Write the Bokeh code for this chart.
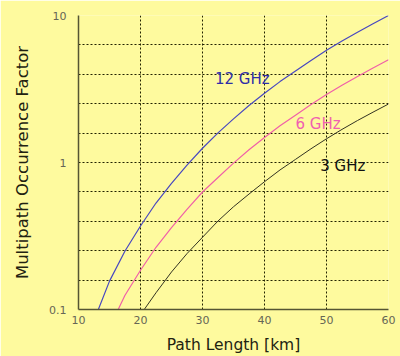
from bokeh.plotting import figure
from bokeh.models import FixedTicker, ColumnDataSource
from bokeh.core.properties import value
from bokeh.embed import file_html
from bokeh.resources import INLINE

# Data
d_12 = [13.2, 15, 17.5, 20, 22.5, 25, 27.5, 30, 32.5, 35, 37.5, 40, 42.5, 45, 47.5, 50, 52.5, 55, 57.5, 60]
p_12 = [0.1, 0.156, 0.25, 0.37, 0.53, 0.72, 0.96, 1.25, 1.59, 1.98, 2.44, 2.96, 3.55, 4.2, 4.95, 5.8, 6.7, 7.7, 8.8, 10.0]

d_6 = [16.4, 17.5, 20, 22.5, 25, 27.5, 30, 32.5, 35, 37.5, 40, 42.5, 45, 47.5, 50, 52.5, 55, 57.5, 60]
p_6 = [0.1, 0.125, 0.185, 0.265, 0.36, 0.48, 0.63, 0.79, 0.99, 1.22, 1.48, 1.78, 2.1, 2.48, 2.9, 3.35, 3.85, 4.4, 5.0]

d_3 = [20.6, 22.5, 25, 27.5, 30, 32.5, 35, 37.5, 40, 42.5, 45, 47.5, 50, 52.5, 55, 57.5, 60]
p_3 = [0.1, 0.13, 0.18, 0.24, 0.31, 0.4, 0.5, 0.61, 0.74, 0.89, 1.05, 1.24, 1.45, 1.68, 1.93, 2.2, 2.5]

x_ticks = [10, 20, 30, 40, 50, 60]
y_ticks = [0.1, 1, 10]
y_grid_exp = [-1.0, -0.8, -0.6, -0.4, -0.2, 0.0, 0.2, 0.4, 0.6, 0.8, 1.0]

labels_text = ["12 GHz", "6 GHz", "3 GHz"]
labels_x = [32.0, 45.0, 49.0]
labels_y = [3.7, 1.84, 0.94]
labels_color = ["#2E2EA8", "#F060B0", "#111111"]

BG = "#FEFA9E"
FONT = "DejaVu Sans"

p = figure(width=400, height=356, x_range=(10, 60), y_range=(0.1, 10),
           y_axis_type="log", output_backend="svg", toolbar_location=None,
           background_fill_color=BG, border_fill_color=BG,
           min_border_left=78, min_border_right=12, min_border_top=15, min_border_bottom=47)
p.outline_line_color = None

p.line(d_12, p_12, line_color="#4848C0", line_width=1.2)
p.line(d_6, p_6, line_color="#F060A8", line_width=1.2)
p.line(d_3, p_3, line_color="#333322", line_width=1.0)

src = ColumnDataSource(dict(x=labels_x, y=labels_y, t=labels_text, c=labels_color))
p.text(x="x", y="y", text="t", text_color="c", source=src,
       text_font=value(FONT), text_font_size="15px",
       text_align="left", text_baseline="middle")

# grid
p.xgrid.ticker = FixedTicker(ticks=x_ticks)
p.ygrid.ticker = FixedTicker(ticks=[10 ** e for e in y_grid_exp])
for g in (p.xgrid, p.ygrid):
    g.grid_line_color = "#222200"
    g.grid_line_dash = "2 2"
    g.grid_line_width = 1
    g.grid_line_alpha = 1.0

p.xaxis.ticker = FixedTicker(ticks=x_ticks)
p.yaxis.ticker = FixedTicker(ticks=y_ticks)
p.yaxis.major_label_overrides = {0.1: "0.1", 1: "1", 10: "10"}

for ax in (p.xaxis, p.yaxis):
    ax.axis_line_color = "#555533"
    ax.axis_line_width = 1.5
    ax.major_tick_line_color = None
    ax.minor_tick_line_color = None
    ax.major_tick_out = 0
    ax.minor_tick_out = 0
    ax.major_label_text_font = FONT
    ax.major_label_text_font_size = "11px"
    ax.major_label_text_color = "#666655"
    ax.axis_label_text_font = FONT
    ax.axis_label_text_font_style = "normal"
    ax.axis_label_text_color = "#222211"

p.xaxis.axis_label = "Path Length [km]"
p.yaxis.axis_label = "Multipath Occurrence Factor"
p.xaxis.axis_label_text_font_size = "15.5px"
p.yaxis.axis_label_text_font_size = "16.5px"
p.xaxis.major_label_standoff = 6
p.xaxis.axis_label_standoff = 9
p.yaxis.major_label_standoff = 12
p.yaxis.axis_label_standoff = 14

open("out.html", "w").write(file_html(p, INLINE))
